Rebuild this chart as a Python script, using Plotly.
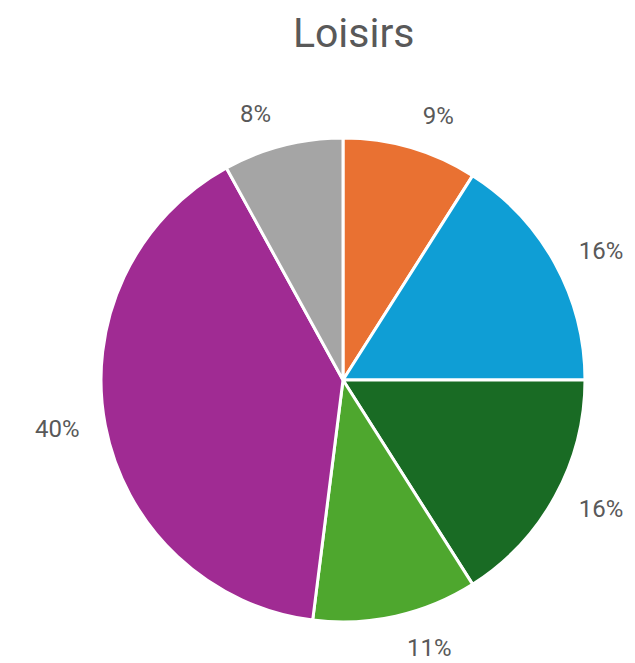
import plotly.graph_objects as go

# Loisirs breakdown, clockwise from 12 o'clock
categories = ["A", "B", "C", "D", "E", "F"]
shares = [9, 16, 16, 11, 40, 8]
slice_colors = ["#E97132", "#0F9ED5", "#196B24", "#4EA72E", "#A02B93", "#A5A5A5"]
title_text = "Loisirs"

W, H = 635, 663
cx, cy, r = 343, 380, 242
r_label = 261  # radius of the transparent ring that carries the outside labels


def domain(radius):
    return dict(
        x=[(cx - radius) / W, (cx + radius) / W],
        y=[(H - cy - radius) / H, (H - cy + radius) / H],
    )


common = dict(labels=categories, values=shares, sort=False,
              direction="clockwise", rotation=0, automargin=False)

fig = go.Figure()

# Label ring: same slices, invisible, so the percentages sit further out
fig.add_trace(
    go.Pie(
        **common,
        marker=dict(colors=["rgba(0,0,0,0)"] * len(shares),
                    line=dict(color="rgba(0,0,0,0)", width=0)),
        texttemplate="%{value}%",
        textposition="outside",
        textfont=dict(family="Roboto", size=24, color="#595959"),
        hoverinfo="skip",
        domain=domain(r_label),
    )
)

# Visible pie
fig.add_trace(
    go.Pie(
        **common,
        marker=dict(colors=slice_colors, line=dict(color="white", width=3)),
        textinfo="none",
        hoverinfo="label+percent",
        domain=domain(r),
    )
)

fig.update_layout(
    width=W,
    height=H,
    margin=dict(l=0, r=0, t=0, b=0),
    paper_bgcolor="white",
    showlegend=False,
    title=dict(
        text=title_text,
        x=0.557,
        xanchor="center",
        y=1 - 33 / H,
        yanchor="middle",
        font=dict(family="Roboto", size=41, color="#595959"),
    ),
)

fig.write_html("out.html")
